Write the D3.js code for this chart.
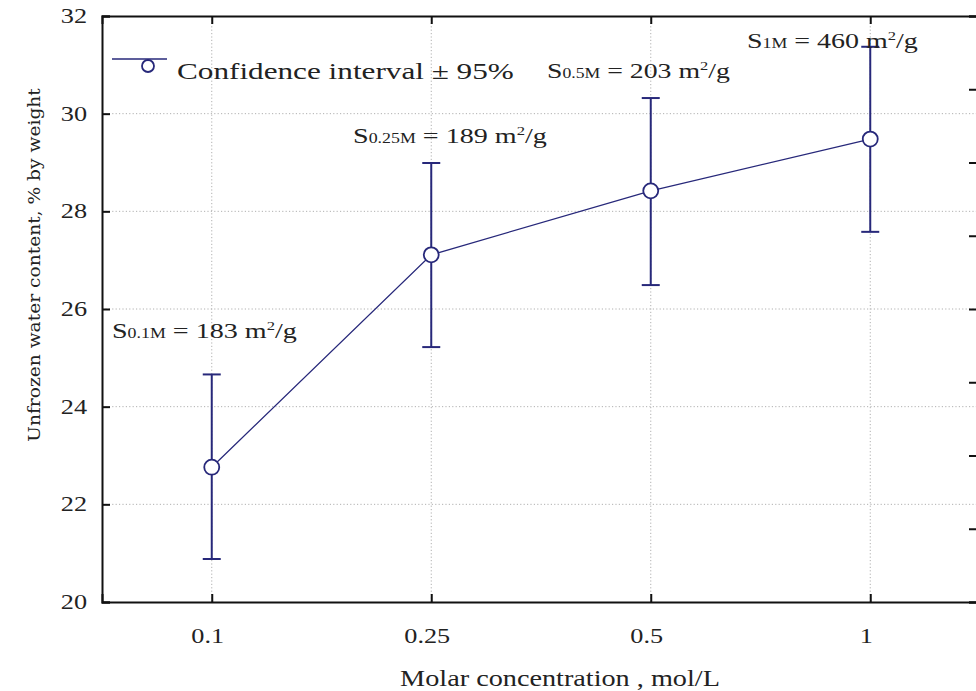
<!DOCTYPE html>
<html><head><meta charset="utf-8">
<script src="https://cdn.jsdelivr.net/npm/d3@7"></script>
<style>body{margin:0;background:#fff}svg{display:block}</style>
</head><body><svg id="c" width="976" height="691"></svg>
<script>
// ---- data ----
const categories = ["0.1", "0.25", "0.5", "1"];
const meanValues = [22.76, 27.11, 28.42, 29.48];
const lowerValues = [20.88, 25.22, 26.49, 27.58];
const upperValues = [24.66, 28.99, 30.32, 31.37];
const yTickValues = [20, 22, 24, 26, 28, 30, 32];
const rightTickValues = [0, 1, 2, 3, 4, 5, 6, 7, 8];
const surfaceSubs = ["0.1M", "0.25M", "0.5M", "1M"];
const surfaceAreas = ["183", "189", "203", "460"];
const legendLabel = "Confidence interval \u00b1 95%";
const xTitle = "Molar concentration , mol/L";
const yTitle = "Unfrozen water content, % by weight";

// ---- layout ----
const L = 102, R = 980, T = 16, B = 602;
const navy = "#27287a";
const serif = "'Liberation Serif', 'Times New Roman', serif";
const stretch = 1.25;
const svg = d3.select("#c");

const x = d3.scalePoint().domain(categories).range([L, R]).padding(0.5);
const y = d3.scaleLinear().domain([20, 32]).range([B, T]);
const yR = d3.scaleLinear().domain([0, 8]).range([B, T]);

// grid
const grid = svg.append("g").attr("stroke", "#b0b0b0").attr("stroke-width", 1).attr("stroke-dasharray", "1.2,2.2");
grid.selectAll("line.h").data(yTickValues.filter(v => v > 20 && v < 32)).join("line")
  .attr("x1", L).attr("x2", R).attr("y1", d => y(d)).attr("y2", d => y(d));
grid.selectAll("line.v").data(categories).join("line")
  .attr("x1", d => x(d)).attr("x2", d => x(d)).attr("y1", T).attr("y2", B);

// axes with inward ticks
const axL = svg.append("g").attr("transform", `translate(${L},0)`)
  .call(d3.axisRight(y).tickValues(yTickValues).tickSize(8).tickFormat(""));
const axB = svg.append("g").attr("transform", `translate(0,${B})`)
  .call(d3.axisTop(x).tickSize(8).tickFormat(""));
const axT = svg.append("g").attr("transform", `translate(0,${T})`)
  .call(d3.axisBottom(x).tickSize(8).tickFormat(""));
const axR = svg.append("g").attr("transform", `translate(${R},0)`)
  .call(d3.axisLeft(yR).tickValues(rightTickValues).tickSize(11).tickFormat(""));
[axL, axB, axT, axR].forEach(a => {
  a.select(".domain").attr("stroke", "#111").attr("stroke-width", 2);
  a.selectAll(".tick line").attr("stroke", "#111").attr("stroke-width", 2);
});

// tick labels (horizontally stretched like the reference typeface)
svg.append("g").selectAll("text").data(yTickValues).join("text")
  .attr("transform", d => `translate(87,${y(d) + 7}) scale(${stretch},1)`).attr("text-anchor", "end")
  .attr("font-family", serif).attr("font-size", 21).attr("fill", "#222").text(d => d);
svg.append("g").selectAll("text").data(categories).join("text")
  .attr("transform", d => `translate(${x(d) - 4},643) scale(${stretch},1)`).attr("text-anchor", "middle")
  .attr("font-family", serif).attr("font-size", 21).attr("fill", "#222").text(d => d);

// helper: stretch a text horizontally to a target width
function fit(sel, target) {
  const w = sel.node().getBBox().width;
  sel.attr("transform", sel.attr("data-base") + ` scale(${target / w},1)`);
}

// axis titles
const xt = svg.append("text").attr("font-family", serif).attr("font-size", 24).attr("fill", "#222")
  .attr("text-anchor", "middle").attr("data-base", "translate(560,686)").attr("transform", "translate(560,686)").text(xTitle);
fit(xt, 320);
const yt = svg.append("text").attr("font-family", "'DejaVu Serif', serif").attr("font-size", 17).attr("fill", "#222")
  .attr("text-anchor", "middle").attr("data-base", "translate(40,265) rotate(-90)")
  .attr("transform", "translate(40,265) rotate(-90)").text(yTitle);
fit(yt, 354);

// series line
const pts = categories.map((c, i) => [x(c), y(meanValues[i])]);
svg.append("path").attr("d", d3.line()(pts)).attr("fill", "none").attr("stroke", navy).attr("stroke-width", 1.3);

// error bars
const eb = svg.append("g").attr("stroke", navy).attr("stroke-width", 2);
categories.forEach((c, i) => {
  eb.append("line").attr("x1", x(c)).attr("x2", x(c)).attr("y1", y(lowerValues[i])).attr("y2", y(upperValues[i]));
  [lowerValues[i], upperValues[i]].forEach(v =>
    eb.append("line").attr("x1", x(c) - 9).attr("x2", x(c) + 9).attr("y1", y(v)).attr("y2", y(v)));
});

// markers
svg.append("g").selectAll("circle").data(categories).join("circle")
  .attr("cx", d => x(d)).attr("cy", (d, i) => y(meanValues[i])).attr("r", 7.5)
  .attr("fill", "#fff").attr("stroke", navy).attr("stroke-width", 1.8);

// legend
const lg = svg.append("g");
lg.append("line").attr("x1", 112).attr("x2", 167).attr("y1", 59).attr("y2", 59).attr("stroke", navy).attr("stroke-width", 1.5);
lg.append("circle").attr("cx", 148).attr("cy", 66).attr("r", 6).attr("fill", "#fff").attr("stroke", navy).attr("stroke-width", 1.8);
const lt = lg.append("text").attr("font-family", serif).attr("font-size", 24).attr("fill", "#222")
  .attr("data-base", "translate(177,79)").attr("transform", "translate(177,79)").text(legendLabel);
fit(lt, 337);

// surface-area annotations
const annLayout = [[112, 338, 185], [353, 143, 194], [547, 78, 183], [747, 48, 171]];
surfaceSubs.forEach((s, i) => {
  const [ax, ay, aw] = annLayout[i];
  const t = svg.append("text").attr("font-family", serif).attr("font-size", 22).attr("fill", "#222")
    .attr("data-base", `translate(${ax},${ay})`).attr("transform", `translate(${ax},${ay})`);
  t.append("tspan").text("S");
  t.append("tspan").attr("font-size", 14).text(s);
  t.append("tspan").text(i === 3 ? " =  " + surfaceAreas[i] + " m" : " = " + surfaceAreas[i] + " m");
  t.append("tspan").attr("font-size", 13).attr("dy", -8).text("2");
  t.append("tspan").attr("dy", 8).text("/g");
  fit(t, aw);
});
</script></body></html>
